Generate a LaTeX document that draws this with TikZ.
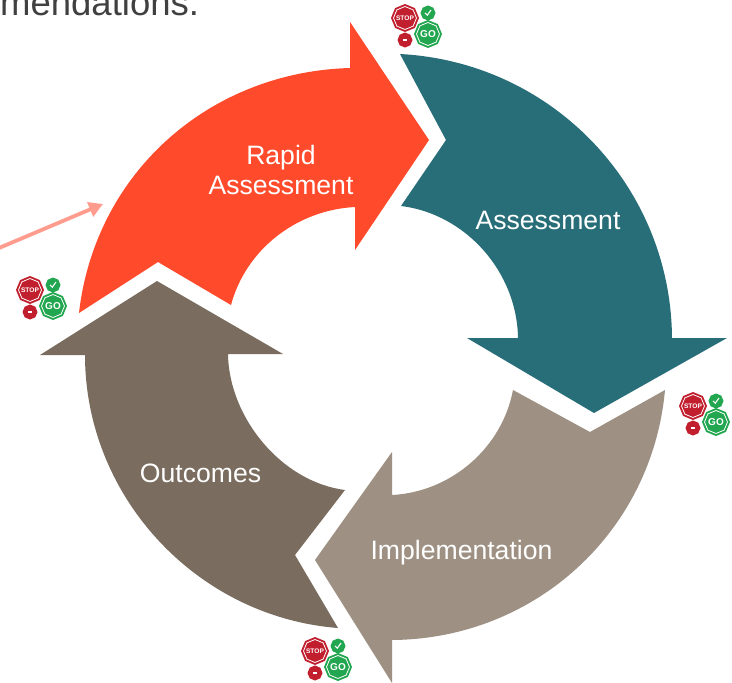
\documentclass[tikz,border=0pt]{standalone}
\usepackage{fontspec}
\setmainfont{Liberation Sans}
\usetikzlibrary{arrows.meta,shapes.geometric}
\definecolor{cred}{HTML}{FF4A2B}
\definecolor{cteal}{HTML}{286E78}
\definecolor{cbeige}{HTML}{9E9184}
\definecolor{cbrown}{HTML}{7A6C5E}
\definecolor{csalmon}{HTML}{FF9C8E}
\definecolor{cstop}{HTML}{C11F2E}
\definecolor{cgo}{HTML}{22A650}
\definecolor{ctop}{HTML}{404040}
\tikzset{
  segment/.style={fill=#1,draw=none},
  steplabel/.style={text=white,align=center,font=\fontsize{26.6}{30}\selectfont,inner sep=0pt},
  hexa/.style={regular polygon,regular polygon sides=8,shape border rotate=22.5,inner sep=0pt,minimum size=#1},
  icontext/.style={text=white,font=\bfseries\fontsize{#1}{#1}\selectfont,inner sep=0pt},
  pics/signs/.style={code={
    \node[hexa=28,fill=cstop] at (0,0) {};
    \node[hexa=23,draw=white,line width=0.8] at (0,0) {};
    \node[icontext=6.6] at (0,0) {STOP};
    \node[hexa=15,fill=cgo] at (23,-5) {};
    \draw[white,line width=1.1] (20,-5) -- (22.3,-2.8) -- (26,-8);
    \node[hexa=15,fill=cstop] at (0,22) {};
    \draw[white,line width=2] (-2,22) -- (2,22);
    \node[hexa=28,fill=cgo] at (23,16) {};
    \node[hexa=23,draw=white,line width=0.8] at (23,16) {};
    \node[icontext=10] at (23,16) {GO};
  }}
}
\begin{document}
\begin{tikzpicture}[x=1pt,y=-1pt]
\useasboundingbox (0,0) rectangle (732,683);
\clip (0,0) rectangle (732,683);
\fill[white] (0,0) rectangle (732,683);
\node[anchor=base west,inner sep=0pt,text=ctop,font=\fontsize{36.5}{40}\selectfont] (heading) at (0,15) {mendations.};
% Rapid assessment
\fill[segment=cred] (79,313) .. controls (95,173) and (209,72) .. (350,68)
  -- (350,22) -- (429,140) -- (355,250) -- (355,207)
  .. controls (297,210) and (246,249) .. (231,305) -- (158,262) -- cycle;
% Assessment
\fill[segment=cteal] (400,54) .. controls (552,62) and (671,186) .. (672,338)
  -- (727,338) -- (594,413) -- (467,338) -- (518,338)
  .. controls (517,272) and (466,214) .. (401,206) -- (446,140) -- cycle;
% Implementation
\fill[segment=cbeige] (665,390) .. controls (652,532) and (535,639) .. (392,640)
  -- (392,683) -- (315,560) -- (392,452) -- (392,495)
  .. controls (451,492) and (502,448) .. (513,390) -- (590,432) -- cycle;
% Outcomes
\fill[segment=cbrown] (338,628) .. controls (197,617) and (85,497) .. (85,355)
  -- (40,355) -- (157,281) -- (283,354) -- (228,354)
  .. controls (229,418) and (282,482) .. (345,490) -- (295,555) -- cycle;
\node[steplabel] (rapid) at (281,170) {Rapid\\Assessment};
\node[steplabel] (assess) at (548,220) {Assessment};
\node[steplabel] (impl) at (461.5,553) {Implementation};
\node[steplabel] (outc) at (200.5,473) {Outcomes};
\coordinate (arrowstart) at (-1,248);
\coordinate (arrowend) at (103,204);
\draw[csalmon,line width=3.8,-{Triangle[length=14,width=15]}] (arrowstart) -- (arrowend);
\pic at (405,18) {signs};
\pic at (30,290) {signs};
\pic at (693,406) {signs};
\pic at (315,651) {signs};
\end{tikzpicture}
\end{document}
